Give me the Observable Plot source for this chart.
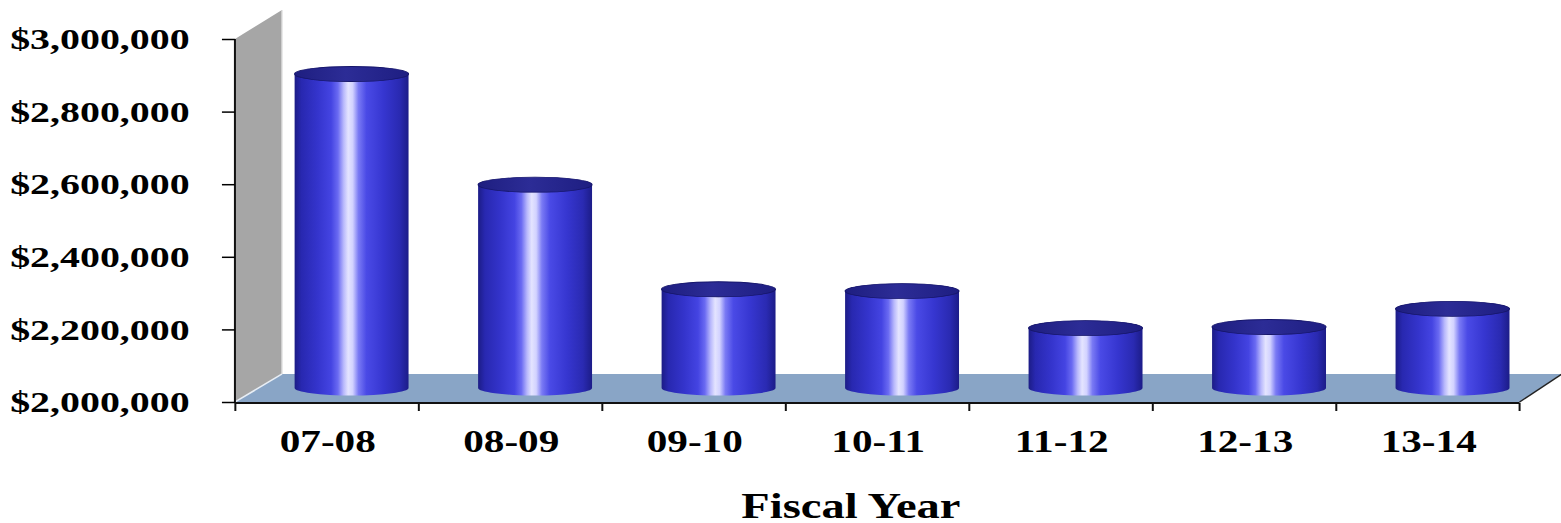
<!DOCTYPE html>
<html><head><meta charset="utf-8">
<script src="https://cdn.jsdelivr.net/npm/d3@7"></script>
<script src="https://cdn.jsdelivr.net/npm/@observablehq/plot@0.6"></script>
<style>html,body{margin:0;padding:0;background:#fff;overflow:hidden}</style>
</head><body><div id="chart"></div>
<script>
// ---- data ----
const fiscalYears = ["07-08","08-09","09-10","10-11","11-12","12-13","13-14"];
const amounts = [2865000, 2560000, 2272000, 2267000, 2165000, 2168000, 2218000];
const yTicks = [2000000, 2200000, 2400000, 2600000, 2800000, 3000000];
const xTitle = "Fiscal Year";
const baseValue = 2000000;

const data = fiscalYears.map((year, i) => ({year, amount: amounts[i]}));

// ---- layout (outer pixels; drawn in a horizontally compressed space then stretched) ----
const W = 1561, H = 523, S = 1.33;
const Wi = Math.round(W / S);
const px = v => v / S;
const mLeft = px(235), mRight = Wi - px(1520), mTop = 39, mBottom = H - 402;
const bandW = (Wi - mLeft - mRight) / fiscalYears.length;
const barW = px(114);
const inset = (bandW - barW) / 2;
const depthX = px(47), depthY = -28;
const barDX = depthX / 2 + px(1), barDY = depthY / 2;
const capRY = 7.5;

function backdrop(index, scales, values, dims) {
  const {width, marginLeft, marginRight} = dims;
  const y = scales.y;
  const x0 = marginLeft, x1 = width - marginRight;
  const yb = y(baseValue), yt = y(d3.max(yTicks));
  const g = d3.create("svg:g");
  // back/side wall
  g.append("path")
    .attr("d", `M${x0},${yb}L${x0},${yt}L${x0 + depthX},${yt + depthY - 1}L${x0 + depthX},${yb + depthY}Z`)
    .attr("fill", "#a6a6a6");
  g.append("line").attr("x1", x0 + depthX).attr("x2", x0 + depthX).attr("y1", yt + depthY - 1).attr("y2", yb + depthY)
    .attr("stroke", "#d9d9d9").attr("stroke-width", 1);
  // floor
  g.append("path")
    .attr("d", `M${x0},${yb}L${x1},${yb}L${x1 + depthX * 0.9},${yb + depthY}L${x0 + depthX},${yb + depthY}Z`)
    .attr("fill", "#89a5c6");
  g.append("line").attr("x1", x0).attr("y1", yb).attr("x2", x0 + depthX).attr("y2", yb + depthY)
    .attr("stroke", "#e8eef5").attr("stroke-width", 1.5);
  g.append("line").attr("x1", x1).attr("y1", yb).attr("x2", x1 + depthX * 0.9).attr("y2", yb + depthY)
    .attr("stroke", "#222").attr("stroke-width", 1.2);
  // axis lines
  g.append("line").attr("x1", x0).attr("x2", x1).attr("y1", yb + 1).attr("y2", yb + 1)
    .attr("stroke", "#111").attr("stroke-width", 1.8);
  g.append("line").attr("x1", x0).attr("x2", x0).attr("y1", yt).attr("y2", yb + 1)
    .attr("stroke", "#111").attr("stroke-width", 1.5);
  // category boundary ticks
  const x = scales.x;
  const bounds = fiscalYears.map(c => x(c)).concat([x1]);
  for (const b of bounds) {
    g.append("line").attr("x1", b).attr("x2", b).attr("y1", yb + 1).attr("y2", yb + 9)
      .attr("stroke", "#111").attr("stroke-width", 1.5);
  }
  return g.node();
}

const plot = Plot.plot({
  width: Wi, height: H,
  marginLeft: mLeft, marginRight: mRight, marginTop: mTop, marginBottom: mBottom,
  x: {domain: fiscalYears, padding: 0, label: null},
  y: {domain: [baseValue, 3000000], label: null},
  style: {fontFamily: "'Liberation Serif', 'Times New Roman', serif", fontWeight: "bold", color: "#000", background: "#fff", overflow: "visible"},
  marks: [
    backdrop,
    Plot.barY(data, {x: "year", y1: baseValue, y2: "amount", fill: "url(#cyl)",
      insetLeft: inset, insetRight: inset, insetTop: -capRY, insetBottom: -capRY,
      rx: 1000, ry: capRY, dx: barDX, dy: barDY}),
    Plot.barY(data, {x: "year", y1: "amount", y2: "amount", fill: "url(#cap)", stroke: "#16166a", strokeWidth: 0.8,
      insetLeft: inset, insetRight: inset, insetTop: -capRY, insetBottom: -capRY,
      rx: 1000, ry: capRY, dx: barDX, dy: barDY}),
    Plot.axisY({ticks: yTicks, tickFormat: d => "$" + d3.format(",")(d), tickSize: px(13), tickPadding: px(33),
      fontSize: 30, label: null, strokeWidth: 1.5}),
    Plot.axisX({tickSize: 0, tickPadding: 27, fontSize: 31, label: null}),
    Plot.text([xTitle], {text: d => d, frameAnchor: "bottom", dy: 115, dx: px(-27), fontSize: 35, fontWeight: "bold"})
  ]
});

const svg = d3.select(plot);
const defs = svg.insert("defs", ":first-child");
const cyl = defs.append("linearGradient").attr("id", "cyl").attr("x1", 0).attr("x2", 1).attr("y1", 0).attr("y2", 0);
[[0, "#1c1c86"], [0.06, "#2828b0"], [0.2, "#3434cc"], [0.32, "#4444e2"], [0.38, "#6a6af2"], [0.43, "#b8b8fc"],
 [0.47, "#e4e4ff"], [0.51, "#d2d2ff"], [0.56, "#7a7af4"], [0.63, "#4a4ae6"], [0.78, "#3636d0"], [0.92, "#2a2ab2"], [1, "#1c1c88"]]
  .forEach(([o, c]) => cyl.append("stop").attr("offset", o).attr("stop-color", c));
const cap = defs.append("linearGradient").attr("id", "cap").attr("x1", 0).attr("x2", 1).attr("y1", 0).attr("y2", 0);
[[0, "#1e1e80"], [0.45, "#2c2c96"], [1, "#1e1e82"]]
  .forEach(([o, c]) => cap.append("stop").attr("offset", o).attr("stop-color", c));

plot.setAttribute("width", W);
plot.setAttribute("height", H);
plot.setAttribute("viewBox", `0 0 ${Wi} ${H}`);
plot.setAttribute("preserveAspectRatio", "none");
plot.style.width = W + "px";
plot.style.height = H + "px";
plot.style.maxWidth = "none";
document.getElementById("chart").appendChild(plot);
</script>
</body></html>
